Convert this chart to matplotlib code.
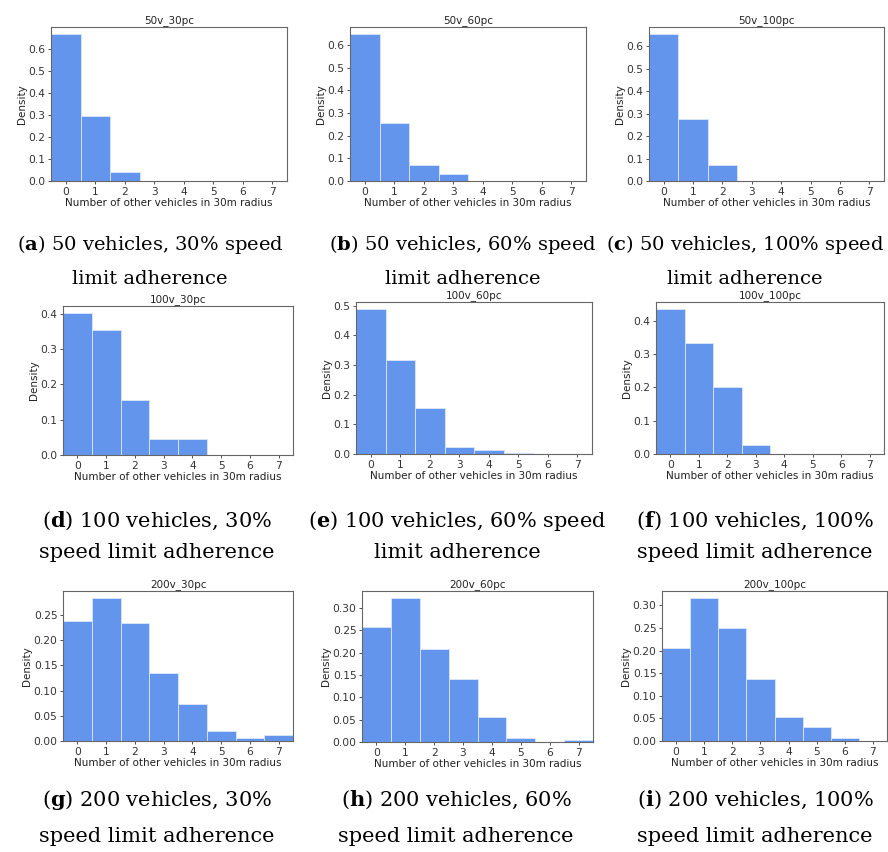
import matplotlib
matplotlib.use("Agg")
import matplotlib.pyplot as plt
import numpy as np

plt.rcParams['mathtext.fontset'] = 'custom'
plt.rcParams['mathtext.rm'] = 'DejaVu Serif'
plt.rcParams['mathtext.bf'] = 'DejaVu Serif:bold'

# number of other vehicles (bin centres) and densities
neighbours = [0, 1, 2, 3, 4, 5, 6, 7]

d_50v_30pc = [0.665, 0.295, 0.040, 0, 0, 0, 0, 0]
d_50v_60pc = [0.647, 0.254, 0.070, 0.030, 0, 0, 0, 0]
d_50v_100pc = [0.653, 0.274, 0.073, 0, 0, 0, 0, 0]
d_100v_30pc = [0.402, 0.354, 0.155, 0.044, 0.046, 0, 0, 0]
d_100v_60pc = [0.488, 0.316, 0.155, 0.024, 0.014, 0.003, 0, 0]
d_100v_100pc = [0.435, 0.334, 0.202, 0.028, 0, 0, 0, 0]
d_200v_30pc = [0.237, 0.283, 0.233, 0.135, 0.073, 0.020, 0.006, 0.012]
d_200v_60pc = [0.258, 0.322, 0.208, 0.140, 0.057, 0.010, 0.001, 0.004]
d_200v_100pc = [0.205, 0.316, 0.251, 0.137, 0.052, 0.032, 0.006, 0.001]

titles = ["50v_30pc", "50v_60pc", "50v_100pc",
          "100v_30pc", "100v_60pc", "100v_100pc",
          "200v_30pc", "200v_60pc", "200v_100pc"]
series = [d_50v_30pc, d_50v_60pc, d_50v_100pc,
          d_100v_30pc, d_100v_60pc, d_100v_100pc,
          d_200v_30pc, d_200v_60pc, d_200v_100pc]
captions = [
    ("a", "50 vehicles, 30% speed", "limit adherence"),
    ("b", "50 vehicles, 60% speed", "limit adherence"),
    ("c", "50 vehicles, 100% speed", "limit adherence"),
    ("d", "100 vehicles, 30%", "speed limit adherence"),
    ("e", "100 vehicles, 60% speed", "limit adherence"),
    ("f", "100 vehicles, 100%", "speed limit adherence"),
    ("g", "200 vehicles, 30%", "speed limit adherence"),
    ("h", "200 vehicles, 60%", "speed limit adherence"),
    ("i", "200 vehicles, 100%", "speed limit adherence"),
]

W, H = 888, 852
fig = plt.figure(figsize=(W / 100, H / 100), dpi=100)

# axes boxes in pixels: left, right, top, bottom
boxes = [
    (51, 287, 27, 181), (350, 586, 27, 181), (649, 884, 27, 181),
    (63, 293, 306, 455), (356, 592, 302, 454), (656, 884, 302, 454),
    (63, 293, 591, 741), (362, 593, 591, 742), (662, 887, 591, 741),
]
cap_x = [150, 463, 745, 157, 457, 755, 157, 456, 755]
cap_y = [(245, 279), (521, 553), (800, 836)]

for k, (vals, title, box) in enumerate(zip(series, titles, boxes)):
    l, r, t, b = box
    ax = fig.add_axes([l / W, 1 - b / H, (r - l) / W, (b - t) / H])
    ax.bar(neighbours, vals, width=1.0, color='#6495ED',
           edgecolor='#dce6fb', linewidth=0.6)
    ax.set_xlim(-0.5, 7.5)
    ax.set_ylim(0, max(vals) * 1.05)
    ax.set_xticks(neighbours)
    ax.set_title(title, fontsize=7.5, pad=3, color='#222222')
    ax.set_xlabel("Number of other vehicles in 30m radius", fontsize=7.5,
                  labelpad=1, color='#222222')
    ax.set_ylabel("Density", fontsize=7.5, labelpad=1, color='#222222')
    ax.tick_params(labelsize=7.7, length=2, width=0.6, pad=2,
                   colors='#333333')
    for sp in ax.spines.values():
        sp.set_color('#666666')
        sp.set_linewidth(0.8)

    letter, line1, line2 = captions[k]
    y1, y2 = cap_y[k // 3]
    fs = 14 if k < 3 else 15
    fig.text(cap_x[k] / W, 1 - y1 / H, r"($\mathbf{" + letter + r"}$) " + line1,
             ha='center', va='center', fontsize=fs, family='DejaVu Serif')
    fig.text(cap_x[k] / W, 1 - y2 / H, line2,
             ha='center', va='center', fontsize=fs, family='DejaVu Serif')

fig.savefig("out.png", dpi=100)
